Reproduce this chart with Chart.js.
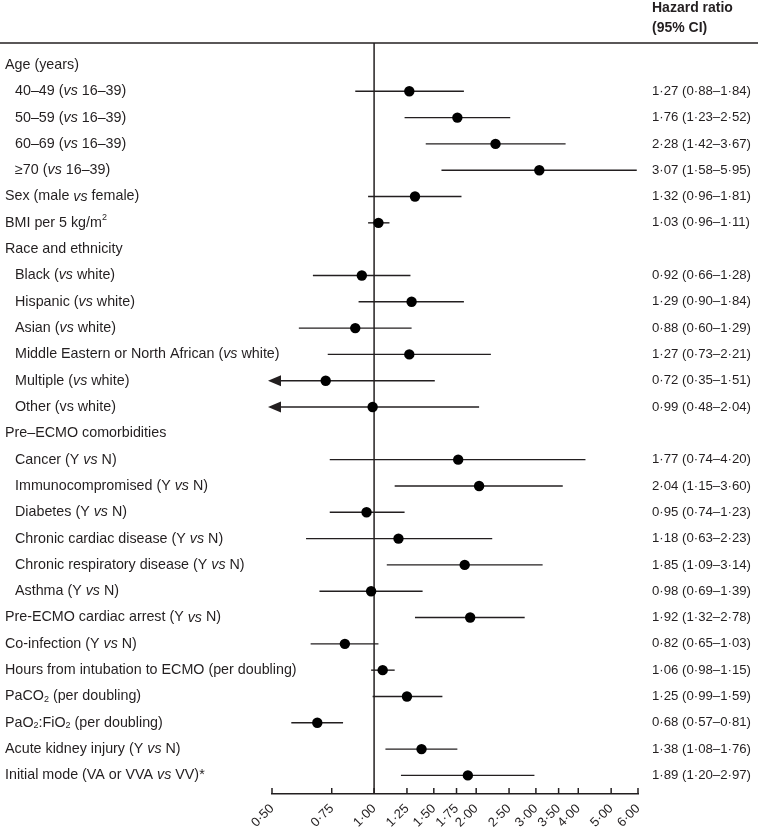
<!DOCTYPE html>
<html>
<head>
<meta charset="utf-8">
<title>Hazard ratios</title>
<script src="https://cdn.jsdelivr.net/npm/chart.js@4.4.1/dist/chart.umd.min.js"></script>
<style>
  html, body { margin: 0; padding: 0; background: #fff; }
  #wrap { position: relative; width: 758px; height: 831px; }
</style>
</head>
<body>
<div id="wrap"><canvas id="forest"></canvas></div>
<script>
// rows of the forest plot, top to bottom (null = section heading)
const rowLabels = [
    "Age (years)",
    "40–49 (<i>vs</i> 16–39)",
    "50–59 (<i>vs</i> 16–39)",
    "60–69 (<i>vs</i> 16–39)",
    "≥70 (<i>vs</i> 16–39)",
    "Sex (male <i>vs</i> female)",
    "BMI per 5 kg/m<sup>2</sup>",
    "Race and ethnicity",
    "Black (<i>vs</i> white)",
    "Hispanic (<i>vs</i> white)",
    "Asian (<i>vs</i> white)",
    "Middle Eastern or North African (<i>vs</i> white)",
    "Multiple (<i>vs</i> white)",
    "Other (vs white)",
    "Pre–ECMO comorbidities",
    "Cancer (Y <i>vs</i> N)",
    "Immunocompromised (Y <i>vs</i> N)",
    "Diabetes (Y <i>vs</i> N)",
    "Chronic cardiac disease (Y <i>vs</i> N)",
    "Chronic respiratory disease (Y <i>vs</i> N)",
    "Asthma (Y <i>vs</i> N)",
    "Pre-ECMO cardiac arrest (Y <i>vs</i> N)",
    "Co-infection (Y <i>vs</i> N)",
    "Hours from intubation to ECMO (per doubling)",
    "PaCO<sub>2</sub> (per doubling)",
    "PaO<sub>2</sub>:FiO<sub>2</sub> (per doubling)",
    "Acute kidney injury (Y <i>vs</i> N)",
    "Initial mode (VA or VVA <i>vs</i> VV)*"
];
const rowIndent = [0, 1, 1, 1, 1, 0, 0, 0, 1, 1, 1, 1, 1, 1, 0, 1, 1, 1, 1, 1, 1, 0, 0, 0, 0, 0, 0, 0];

const hazardRatio = [null, 1.27, 1.76, 2.28, 3.07, 1.32, 1.03, null, 0.92, 1.29, 0.88, 1.27, 0.72, 0.99,
    null, 1.77, 2.04, 0.95, 1.18, 1.85, 0.98, 1.92, 0.82, 1.06, 1.25, 0.68, 1.38, 1.89];
const ciLower = [null, 0.88, 1.23, 1.42, 1.58, 0.96, 0.96, null, 0.66, 0.90, 0.60, 0.73, 0.35, 0.48,
    null, 0.74, 1.15, 0.74, 0.63, 1.09, 0.69, 1.32, 0.65, 0.98, 0.99, 0.57, 1.08, 1.20];
const ciUpper = [null, 1.84, 2.52, 3.67, 5.95, 1.81, 1.11, null, 1.28, 1.84, 1.29, 2.21, 1.51, 2.04,
    null, 4.20, 3.60, 1.23, 2.23, 3.14, 1.39, 2.78, 1.03, 1.15, 1.59, 0.81, 1.76, 2.97];

const xTicks = [0.5, 0.75, 1, 1.25, 1.5, 1.75, 2, 2.5, 3, 3.5, 4, 5, 6];

const ink = "#231f20";
const fontFamily = "'Liberation Sans', Arial, sans-serif";
const labelSize = 14.3;
const valueSize = 13.2;

// Lancet style decimals: 1·27
function fmt(v) {
    return v.toFixed(2).replace(".", "·");
}

// draw a label with <i>, <sub>, <sup> markup
function drawRich(ctx, text, x, y) {
    const parts = text.split(/(<i>.*?<\/i>|<sub>.*?<\/sub>|<sup>.*?<\/sup>)/).filter(p => p !== "");
    let cx = x;
    parts.forEach(p => {
        let str = p, style = "", size = labelSize, dy = 0;
        if (p.startsWith("<i>")) {
            str = p.slice(3, -4);
            style = "italic ";
        } else if (p.startsWith("<sub>")) {
            str = p.slice(5, -6);
            size = 9;
            dy = 3;
        } else if (p.startsWith("<sup>")) {
            str = p.slice(5, -6);
            size = 9;
            dy = -5;
        }
        ctx.font = style + size + "px " + fontFamily;
        ctx.fillText(str, cx, y + dy);
        cx += ctx.measureText(str).width;
    });
}

const forestDecor = {
    id: "forestDecor",
    beforeDatasetsDraw(chart) {
        const { ctx, chartArea, scales: { x, y } } = chart;
        ctx.save();
        ctx.strokeStyle = ink;
        ctx.fillStyle = ink;
        ctx.lineWidth = 1.5;

        // rule under the header
        ctx.beginPath();
        ctx.moveTo(0, chartArea.top);
        ctx.lineTo(chart.width, chartArea.top);
        ctx.stroke();

        // line of no effect
        const x1 = x.getPixelForValue(1);
        ctx.beginPath();
        ctx.moveTo(x1, chartArea.top);
        ctx.lineTo(x1, chartArea.bottom);
        ctx.stroke();

        // tick marks point up from the axis
        xTicks.forEach(v => {
            const px = x.getPixelForValue(v);
            ctx.beginPath();
            ctx.moveTo(px, chartArea.bottom);
            ctx.lineTo(px, chartArea.bottom - 6);
            ctx.stroke();
        });

        // confidence intervals
        ctx.lineWidth = 1.4;
        hazardRatio.forEach((hr, i) => {
            if (hr === null) return;
            const py = y.getPixelForValue(i + 1);
            const clipped = ciLower[i] < x.min;
            const left = x.getPixelForValue(Math.max(ciLower[i], x.min));
            const right = x.getPixelForValue(Math.min(ciUpper[i], x.max));
            ctx.beginPath();
            ctx.moveTo(clipped ? left + 6 : left, py);
            ctx.lineTo(right, py);
            ctx.stroke();
            if (clipped) {
                ctx.beginPath();
                ctx.moveTo(left - 4, py);
                ctx.lineTo(left + 9, py - 5.5);
                ctx.lineTo(left + 9, py + 5.5);
                ctx.closePath();
                ctx.fill();
            }
        });
        ctx.restore();
    },
    afterDraw(chart) {
        const { ctx, scales: { y } } = chart;
        ctx.save();
        ctx.fillStyle = ink;
        ctx.textBaseline = "middle";

        // header
        ctx.font = "bold 14px " + fontFamily;
        ctx.fillText("Hazard ratio", 652, 8);
        ctx.fillText("(95% CI)", 652, 28);

        rowLabels.forEach((label, i) => {
            const py = y.getPixelForValue(i + 1);
            drawRich(ctx, label, rowIndent[i] ? 15 : 5, py);
            if (hazardRatio[i] !== null) {
                ctx.font = valueSize + "px " + fontFamily;
                ctx.fillText(fmt(hazardRatio[i]) + " (" + fmt(ciLower[i]) + "–" + fmt(ciUpper[i]) + ")", 652, py);
            }
        });
        ctx.restore();
    }
};

const points = [];
hazardRatio.forEach((hr, i) => {
    if (hr !== null) points.push({ x: hr, y: i + 1 });
});

new Chart(document.getElementById("forest"), {
    type: "scatter",
    data: {
        datasets: [{
            data: points,
            pointRadius: 5.2,
            pointHoverRadius: 5.2,
            backgroundColor: "#000",
            borderWidth: 0
        }]
    },
    options: {
        responsive: true,
        maintainAspectRatio: false,
        animation: false,
        layout: { padding: { left: 272, right: 120, top: 43, bottom: 0 } },
        plugins: { legend: { display: false }, tooltip: { enabled: false } },
        scales: {
            x: {
                type: "logarithmic",
                min: 0.5,
                max: 6,
                afterBuildTicks: scale => {
                    scale.ticks = xTicks.map(v => ({ value: v }));
                },
                afterFit: scale => {
                    scale.height = 37;
                },
                grid: { display: false, drawTicks: false },
                border: { display: true, color: ink, width: 1.5 },
                ticks: {
                    autoSkip: false,
                    minRotation: 45,
                    maxRotation: 45,
                    padding: 7,
                    color: ink,
                    font: { family: fontFamily, size: 13 },
                    callback: v => fmt(v)
                }
            },
            y: {
                type: "linear",
                display: false,
                reverse: true,
                min: 0.165,
                max: 28.707
            }
        }
    },
    plugins: [forestDecor]
});
</script>
</body>
</html>
